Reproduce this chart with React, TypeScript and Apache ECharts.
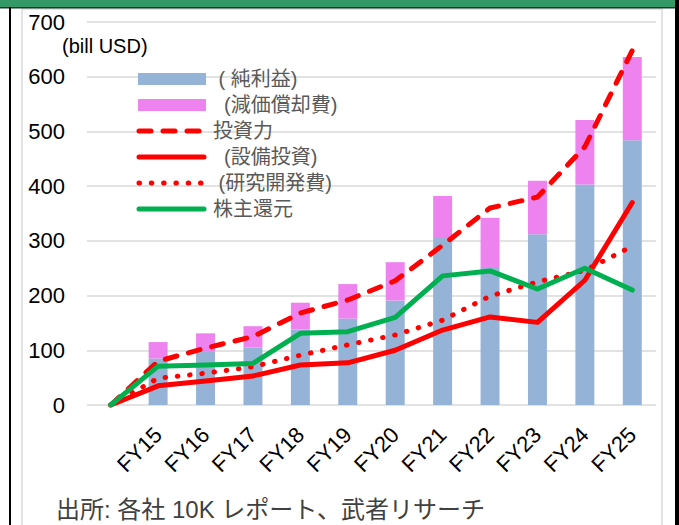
import React, { useEffect, useRef } from 'react';
import * as echarts from 'echarts';

const categories = ['', 'FY15', 'FY16', 'FY17', 'FY18', 'FY19', 'FY20', 'FY21', 'FY22', 'FY23', 'FY24', 'FY25'];
const netIncome = [null, 85, 97, 105, 138, 158, 191, 305, 252, 312, 403, 484];
const depreciation = [null, 30, 34, 39, 49, 63, 70, 77, 90, 98, 118, 152];
const investPower = [0, 80, 104, 125, 168, 192, 227, 292, 360, 380, 472, 648];
const capex = [0, 35, 44, 53, 73, 77, 100, 137, 161, 151, 228, 370];
const rnd = [0, 49, 58, 70, 91, 110, 128, 155, 199, 225, 246, 290];
const shareholder = [0, 71, 73, 76, 131, 134, 160, 236, 245, 212, 250, 210];

const seriesNames = ['純利益', '減価償却費', '投資力', '設備投資', '研究開発費', '株主還元'];
const legendLabels = [' ( 純利益)', '  (減価償却費)', '投資力', '  (設備投資)', ' (研究開発費)', '株主還元'];
const unitLabel = '(bill USD)';
const footnote = '出所: 各社 10K レポート、武者リサーチ';

const FONT = "'Liberation Sans', Arial, 'Noto Sans CJK JP', sans-serif";
const BLUE = '#95B3D7';
const PINK = '#EE82EE';
const RED = '#FF0000';
const GREEN = '#00B050';
const DASH = [12, 12];
const DOT = [0.5, 11.8];

export default function App() {
  const ref = useRef<HTMLDivElement>(null);
  useEffect(() => {
    document.body.style.margin = '0';
    const chart = echarts.init(ref.current!, null, { renderer: 'svg' });

    const legendStyles = [
      { kind: 'rect', color: BLUE },
      { kind: 'rect', color: PINK },
      { kind: 'line', color: RED, dash: DASH },
      { kind: 'line', color: RED, dash: null },
      { kind: 'line', color: RED, dash: DOT },
      { kind: 'line', color: GREEN, dash: null },
    ];
    const legendTop = 79;
    const legendStep = 26;
    const legendGraphics: any[] = [];
    legendStyles.forEach((s, i) => {
      const cy = legendTop + i * legendStep;
      if (s.kind === 'rect') {
        legendGraphics.push({
          type: 'rect',
          shape: { x: 138, y: cy - 6, width: 68, height: 12 },
          style: { fill: s.color },
          z: 10,
        });
      } else {
        legendGraphics.push({
          type: 'line',
          shape: { x1: 139, y1: cy, x2: 204, y2: cy },
          style: {
            stroke: s.color,
            lineWidth: 5,
            lineCap: 'round',
            lineDash: s.dash || undefined,
          },
          z: 10,
        });
      }
      legendGraphics.push({
        type: 'text',
        x: 213,
        y: cy,
        style: {
          text: legendLabels[i],
          fill: '#595959',
          font: `20px ${FONT}`,
          verticalAlign: 'middle',
        },
        z: 10,
      });
    });

    chart.setOption({
      animation: false,
      backgroundColor: '#ffffff',
      textStyle: { fontFamily: FONT },
      grid: { left: 87, right: 23, top: 22, bottom: 120, containLabel: false },
      xAxis: {
        type: 'category',
        data: categories,
        axisLine: { show: false },
        axisTick: { show: false },
        axisLabel: {
          interval: 0,
          rotate: 45,
          margin: 26,
          fontSize: 22,
          color: '#000000',
          fontFamily: FONT,
        },
      },
      yAxis: {
        type: 'value',
        min: 0,
        max: 700,
        interval: 100,
        axisLine: { show: false },
        axisTick: { show: false },
        axisLabel: { fontSize: 22, color: '#000000', margin: 22, fontFamily: FONT },
        splitLine: { lineStyle: { color: '#d9d9d9', width: 1.5 } },
      },
      series: [
        {
          name: seriesNames[0],
          type: 'bar',
          stack: 'bars',
          data: netIncome,
          barWidth: '40%',
          itemStyle: { color: BLUE },
        },
        {
          name: seriesNames[1],
          type: 'bar',
          stack: 'bars',
          data: depreciation,
          barWidth: '40%',
          itemStyle: { color: PINK },
        },
        {
          name: seriesNames[2],
          type: 'line',
          data: investPower,
          symbol: 'none',
          z: 3,
          lineStyle: { color: RED, width: 5, type: DASH, cap: 'round', join: 'round' },
        },
        {
          name: seriesNames[3],
          type: 'line',
          data: capex,
          symbol: 'none',
          z: 3,
          lineStyle: { color: RED, width: 5, cap: 'round', join: 'round' },
        },
        {
          name: seriesNames[4],
          type: 'line',
          data: rnd,
          symbol: 'none',
          z: 3,
          lineStyle: { color: RED, width: 5, type: DOT, cap: 'round', join: 'round' },
        },
        {
          name: seriesNames[5],
          type: 'line',
          data: shareholder,
          symbol: 'none',
          z: 3,
          lineStyle: { color: GREEN, width: 5, cap: 'round', join: 'round' },
        },
      ],
      graphic: [
        { type: 'rect', shape: { x: 0, y: 0, width: 676, height: 7 }, style: { fill: '#339966' }, z: 20 },
        { type: 'rect', shape: { x: 0, y: 7, width: 679, height: 1.5 }, style: { fill: '#1a3a28' }, z: 20 },
        { type: 'rect', shape: { x: 9, y: 7, width: 2, height: 518 }, style: { fill: '#000000' }, z: 20 },
        { type: 'rect', shape: { x: 675, y: 0, width: 4, height: 525 }, style: { fill: '#000000' }, z: 20 },
        {
          type: 'rect',
          shape: { x: 22, y: 9, width: 640, height: 530 },
          style: { fill: 'none', stroke: '#d9d9d9', lineWidth: 1.5 },
          z: 0,
        },
        {
          type: 'text',
          x: 62,
          y: 46,
          style: { text: unitLabel, fill: '#000000', font: `20px ${FONT}`, verticalAlign: 'middle' },
          z: 10,
        },
        {
          type: 'text',
          x: 56,
          y: 509,
          style: { text: footnote, fill: '#404040', font: `24px ${FONT}`, verticalAlign: 'middle' },
          z: 10,
        },
        ...legendGraphics,
      ],
    });
    return () => chart.dispose();
  }, []);
  return <div ref={ref} style={{ width: 679, height: 525 }} />;
}
